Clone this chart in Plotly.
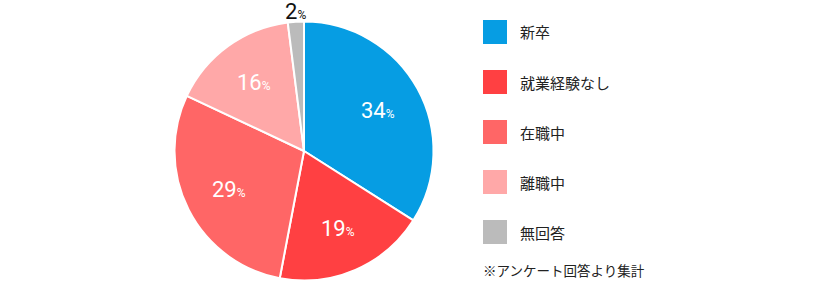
import math
import plotly.graph_objects as go

labels = ["新卒", "就業経験なし", "在職中", "離職中", "無回答"]
values = [34, 19, 29, 16, 2]
colors = ["#069de3", "#ff4042", "#ff6666", "#ffa8a8", "#bbbbbb"]
note = "※アンケート回答より集計"

W, H = 820, 282
cx, cy, R = 304, 151, 128

fig = go.Figure()
Rd = R + 1.5
fig.add_trace(go.Pie(
    labels=labels, values=values, sort=False, direction="clockwise", rotation=0,
    marker=dict(colors=colors, line=dict(color="white", width=2)),
    textinfo="none", hoverinfo="label+percent", showlegend=False,
    domain=dict(x=[(cx - Rd) / W, (cx + Rd) / W], y=[(H - cy - Rd) / H, (H - cy + Rd) / H]),
))

num_font = "Roboto, sans-serif"
total = sum(values)
cum = 0
for lab, v in zip(labels, values):
    mid = (cum + v / 2) / total * 2 * math.pi
    cum += v
    inside = v / total > 0.05
    rr = 0.66 * R if inside else R + 12
    x = cx + rr * math.sin(mid)
    y = cy - rr * math.cos(mid)
    col = "white" if inside else "#111111"
    txt = f"{v}<span style='font-size:12px'>%</span>"
    fig.add_annotation(x=x / W, y=1 - y / H, xref="paper", yref="paper", text=txt,
                       showarrow=False, xanchor="center", yanchor="middle",
                       font=dict(family=num_font, size=22, color=col))

# custom legend
lx, ly0, step, sq = 483, 32, 50, 24
for i, (lab, c) in enumerate(zip(labels, colors)):
    yc = ly0 + i * step
    fig.add_shape(type="rect", xref="paper", yref="paper",
                  x0=lx / W, x1=(lx + sq) / W,
                  y0=1 - (yc - sq / 2) / H, y1=1 - (yc + sq / 2) / H,
                  fillcolor=c, line=dict(width=0))
    fig.add_annotation(x=(lx + sq + 11) / W, y=1 - yc / H, xref="paper", yref="paper",
                       text=lab, showarrow=False, xanchor="left", yanchor="middle",
                       font=dict(family="Noto Sans CJK JP", size=15, color="#222222"))

fig.add_annotation(x=(lx - 2) / W, y=1 - 270 / H, xref="paper", yref="paper",
                   text=note, showarrow=False, xanchor="left", yanchor="middle",
                   font=dict(family="Noto Sans CJK JP", size=13.5, color="#222222"))

fig.update_layout(width=W, height=H, margin=dict(l=0, r=0, t=0, b=0),
                  paper_bgcolor="white", plot_bgcolor="white")
fig.write_html("out.html")
